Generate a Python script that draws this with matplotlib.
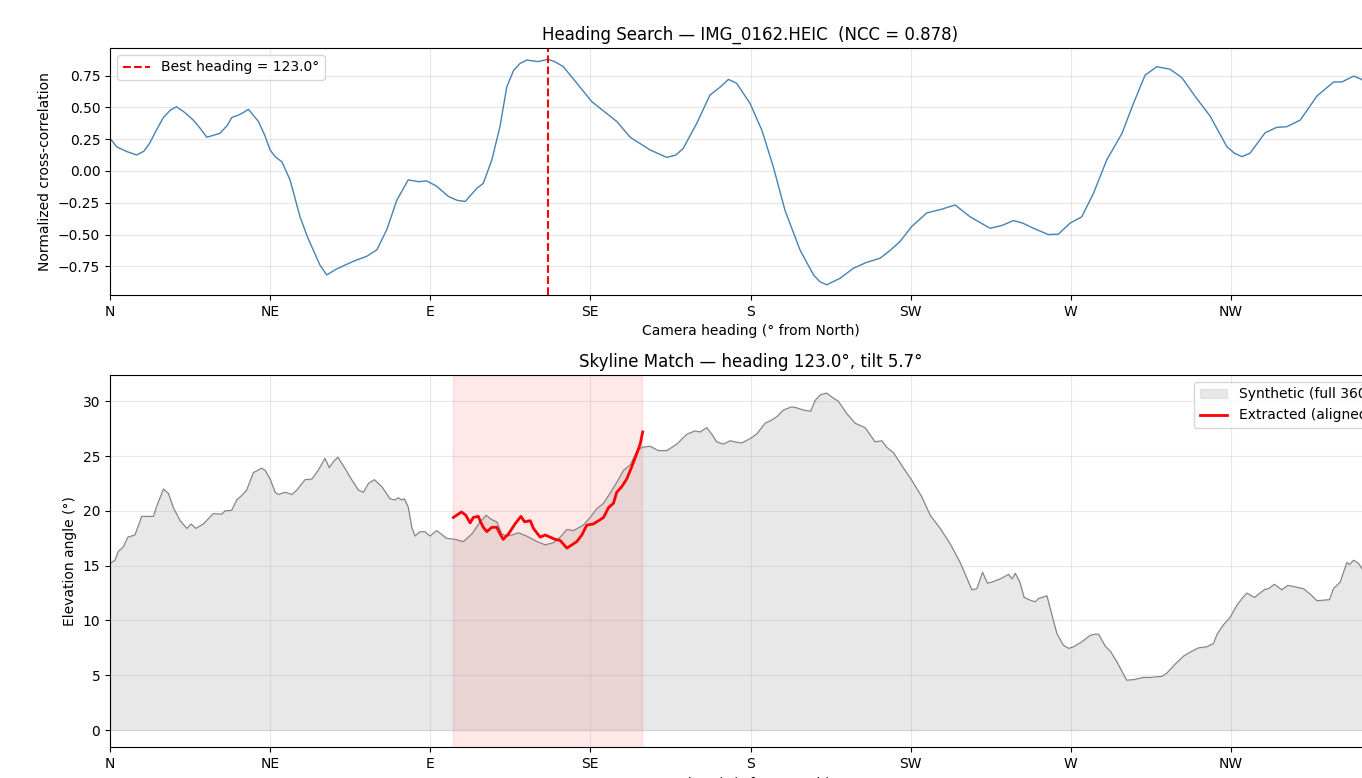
import numpy as np
import matplotlib
matplotlib.use("Agg")
import matplotlib.pyplot as plt

# ---------------- data ----------------
tick_pos = [0, 45, 90, 135, 180, 225, 270, 315]
tick_labels = ["N", "NE", "E", "SE", "S", "SW", "W", "NW"]

best_heading = 123.0
best_ncc = 0.878
tilt = 5.7
fov_start = 96.4
fov_end = 149.6

ncc_heading = [0.0, 1.9, 4.5, 7.5, 9.5, 11.2, 13.0, 15.0, 17.0, 18.7, 21.0, 23.4, 25.5, 27.2,
               30.9, 33.0, 34.2, 36.1, 37.5, 38.9, 41.7, 43.5, 45.0, 46.5, 48.3, 50.6, 53.4,
               55.5, 57.1, 59.0, 60.9, 63.7, 68.4, 72.2, 75.0, 77.8, 80.6, 83.8, 86.7, 89.0,
               91.8, 95.1, 97.5, 99.8, 103.1, 104.9, 107.3, 109.6, 111.5, 113.4, 115.2,
               117.1, 120.4, 123.0, 125.0, 127.4, 131.2, 135.4, 142.4, 146.2, 151.8, 156.5,
               159.0, 161.1, 164.9, 168.6, 171.5, 173.8, 176.1, 179.9, 183.2, 186.4, 189.7,
               193.9, 197.7, 199.5, 201.4, 205.2, 208.9, 212.5, 216.4, 219.0, 222.0, 225.3,
               229.5, 233.8, 237.5, 241.7, 247.3, 250.5, 253.9, 256.5, 259.5, 263.7, 266.5,
               269.8, 273.1, 276.4, 280.1, 284.4, 287.6, 290.9, 294.2, 297.9, 301.2, 305.0,
               309.2, 313.9, 316.0, 318.1, 320.4, 322.5, 324.6, 327.9, 330.7, 334.5, 339.2,
               343.9, 346.2, 349.5, 351.8, 355.0, 359.0]
ncc_values = [0.257, 0.19, 0.155, 0.126, 0.155, 0.22, 0.32, 0.42, 0.48, 0.505, 0.46, 0.40,
              0.33, 0.265, 0.296, 0.36, 0.42, 0.44, 0.46, 0.485, 0.39, 0.28, 0.165, 0.11,
              0.073, -0.07, -0.36, -0.52, -0.62, -0.74, -0.817, -0.77, -0.71, -0.67, -0.62,
              -0.46, -0.23, -0.07, -0.084, -0.078, -0.12, -0.20, -0.23, -0.24, -0.136,
              -0.097, 0.086, 0.35, 0.66, 0.79, 0.845, 0.872, 0.86, 0.878, 0.86, 0.82, 0.69,
              0.545, 0.39, 0.265, 0.165, 0.107, 0.125, 0.178, 0.375, 0.597, 0.66, 0.72, 0.69,
              0.53, 0.32, 0.034, -0.31, -0.62, -0.817, -0.87, -0.895, -0.843, -0.765, -0.72,
              -0.686, -0.63, -0.555, -0.437, -0.33, -0.30, -0.267, -0.36, -0.45, -0.43,
              -0.39, -0.41, -0.45, -0.50, -0.497, -0.41, -0.36, -0.175, 0.086, 0.296, 0.53,
              0.754, 0.82, 0.80, 0.735, 0.585, 0.43, 0.19, 0.14, 0.113, 0.14, 0.22, 0.30,
              0.343, 0.348, 0.40, 0.59, 0.70, 0.70, 0.746, 0.72, 0.55, 0.30]

sky_az = [0.0, 1.4, 2.3, 3.7, 5.0, 7.0, 8.9, 12.2, 13.1, 15.0, 16.4, 17.8, 19.7, 21.6, 22.8,
          24.1, 26.2, 29.0, 31.4, 32.3, 34.2, 35.6, 37.0, 38.4, 40.3, 41.5, 42.6, 43.6,
          45.0, 46.4, 47.3, 49.2, 51.1, 52.5, 54.8, 56.7, 58.5, 60.4, 61.6, 62.8, 64.0,
          66.1, 67.9, 69.8, 71.2, 72.6, 74.3, 76.4, 78.7, 80.1, 81.0, 82.0, 82.7, 83.8,
          84.8, 85.7, 87.1, 88.5, 89.9, 91.8, 94.6, 97.0, 99.3, 101.7, 104.0, 105.7,
          107.3, 108.7, 110.1, 111.5, 112.9, 114.8, 117.1, 120.0, 122.3, 124.6, 126.5,
          128.4, 130.2, 133.0, 134.9, 136.8, 138.7, 140.5, 142.4, 144.3, 146.2, 148.0,
          149.4, 151.8, 154.1, 156.5, 159.3, 162.1, 164.4, 165.8, 167.7, 169.1, 170.5,
          172.4, 174.3, 175.7, 177.5, 179.9, 181.7, 184.1, 186.0, 187.4, 189.2, 191.6,
          193.0, 194.9, 196.9, 198.2, 199.6, 201.4, 202.8, 204.7, 207.0, 209.4, 212.2,
          215.0, 216.9, 218.3, 220.2, 223.0, 225.3, 228.1, 230.5, 233.3, 236.1, 238.9,
          242.2, 243.6, 245.2, 246.6, 247.8, 250.2, 252.5, 253.5, 254.4, 255.7, 256.9,
          258.6, 260.0, 260.9, 263.3, 264.7, 266.1, 267.9, 269.4, 270.8, 273.1, 275.5,
          276.9, 277.8, 279.7, 281.1, 283.0, 284.3, 285.7, 287.6, 290.4, 292.3, 295.6,
          297.0, 299.3, 301.7, 303.5, 305.9, 308.2, 310.1, 311.2, 312.9, 314.8, 316.7,
          318.1, 319.5, 321.6, 323.2, 324.6, 325.6, 327.2, 329.3, 331.0, 332.6, 335.4,
          337.3, 339.2, 341.0, 342.7, 343.8, 345.7, 347.6, 348.3, 349.5, 350.9, 351.9,
          355.0, 359.5]
sky_elev = [15.2, 15.5, 16.3, 16.7, 17.6, 17.8, 19.5, 19.5, 20.4, 22.0, 21.6, 20.3, 19.1,
            18.4, 18.8, 18.4, 18.8, 19.75, 19.7, 20.0, 20.05, 21.0, 21.4, 21.9, 23.5, 23.7,
            23.9, 23.7, 22.9, 21.7, 21.5, 21.7, 21.5, 21.9, 22.85, 22.9, 23.7, 24.8, 23.95,
            24.5, 24.9, 23.85, 22.85, 21.9, 21.7, 22.5, 22.85, 22.2, 21.1, 21.0, 21.2, 21.0,
            21.1, 20.35, 18.5, 17.7, 18.1, 18.1, 17.7, 18.2, 17.5, 17.4, 17.2, 17.9, 19.0,
            19.6, 19.2, 19.0, 17.9, 17.7, 17.8, 18.0, 17.7, 17.2, 16.9, 17.1, 17.6, 18.3,
            18.2, 18.7, 19.4, 20.2, 20.7, 21.6, 22.6, 23.7, 24.2, 25.4, 25.8, 25.9, 25.5,
            25.5, 26.1, 27.0, 27.3, 27.2, 27.6, 27.0, 26.3, 26.1, 26.4, 26.3, 26.2, 26.6,
            27.0, 28.0, 28.3, 28.6, 29.2, 29.5, 29.4, 29.2, 29.1, 30.1, 30.6, 30.75, 30.4,
            30.0, 28.9, 28.0, 27.6, 26.3, 26.4, 25.8, 25.3, 23.9, 22.8, 21.3, 19.6, 18.4,
            17.0, 15.3, 12.8, 12.9, 14.4, 13.4, 13.5, 13.8, 14.2, 13.8, 14.3, 13.5, 12.1,
            11.85, 11.7, 12.0, 12.25, 10.5, 8.8, 7.75, 7.45, 7.6, 8.05, 8.65, 8.75, 8.75,
            7.65, 7.2, 6.2, 5.4, 4.55, 4.6, 4.8, 4.8, 4.9, 5.2, 6.0, 6.75, 7.1, 7.5, 7.6,
            7.9, 8.8, 9.6, 10.3, 11.4, 12.0, 12.5, 12.1, 12.5, 12.85, 12.9, 13.3, 12.8,
            13.2, 13.1, 12.9, 12.4, 11.8, 11.85, 11.9, 12.9, 13.5, 15.3, 15.1, 15.5, 15.2,
            14.7, 14.5, 15.2]

ext_az = [96.5, 97.4, 98.8, 100.0, 101.2, 102.1, 103.5, 104.0, 104.9, 105.9, 107.3, 108.7,
          109.6, 110.5, 112.0, 113.8, 115.5, 116.5, 118.1, 119.0, 120.9, 122.3, 123.7,
          125.1, 126.5, 128.4, 129.8, 131.2, 132.6, 134.0, 135.8, 137.3, 138.7, 140.1,
          141.5, 142.4, 143.8, 145.2, 146.6, 148.0, 149.0, 149.7]
ext_elev = [19.4, 19.6, 19.9, 19.6, 18.9, 19.4, 19.5, 19.1, 18.5, 18.1, 18.5, 18.5, 17.9,
            17.4, 17.9, 18.8, 19.5, 19.0, 19.1, 18.4, 17.6, 17.8, 17.6, 17.4, 17.3, 16.6,
            16.9, 17.2, 17.8, 18.7, 18.8, 19.1, 19.4, 20.3, 20.7, 21.7, 22.2, 22.9, 24.0,
            25.2, 26.1, 27.2]

# ---------------- figure ----------------
W, H = 1362, 778
fig = plt.figure(figsize=(W / 100, H / 100), dpi=100)

def fig_rect(x0, x1, y0, y1):
    return [x0 / W, 1 - y1 / H, (x1 - x0) / W, (y1 - y0) / H]

ax1 = fig.add_axes(fig_rect(110, 1391, 48, 295))
ax2 = fig.add_axes(fig_rect(110, 1391, 375, 747))

# Top: heading search
ax1.plot(ncc_heading, ncc_values, color="steelblue", lw=1.0)
ax1.axvline(best_heading, color="red", ls="--", lw=1.5,
            label=f"Best heading = {best_heading:.1f}°")
ax1.set_xlim(0, 360)
ax1.set_ylim(-0.975, 0.967)
ax1.set_xticks(tick_pos)
ax1.set_xticklabels(tick_labels)
ax1.set_yticks([-0.75, -0.5, -0.25, 0.0, 0.25, 0.5, 0.75])
ax1.set_xlabel("Camera heading (° from North)")
ax1.set_ylabel("Normalized cross-correlation")
ax1.set_title(f"Heading Search — IMG_0162.HEIC  (NCC = {best_ncc:.3f})", fontsize=12)
ax1.grid(True, alpha=0.3)
ax1.legend(loc="upper left")

# Bottom: skyline match
ax2.fill_between(sky_az, 0, sky_elev, color="lightgray", alpha=0.5,
                 label="Synthetic (full 360°)")
ax2.plot(sky_az, sky_elev, color="gray", lw=0.8)
ax2.axvspan(fov_start, fov_end, color="red", alpha=0.09)
ax2.plot(ext_az, ext_elev, color="red", lw=2, label="Extracted (aligned)")
ax2.set_xlim(0, 360)
ax2.set_ylim(-1.55, 32.4)
ax2.set_xticks(tick_pos)
ax2.set_xticklabels(tick_labels)
ax2.set_xlabel("Azimuth (° from North)")
ax2.set_ylabel("Elevation angle (°)")
ax2.set_title(f"Skyline Match — heading {best_heading:.1f}°, tilt {tilt:.1f}°", fontsize=12)
ax2.grid(True, alpha=0.3)
ax2.legend(loc="upper right")

fig.savefig("out.png", dpi=100)
